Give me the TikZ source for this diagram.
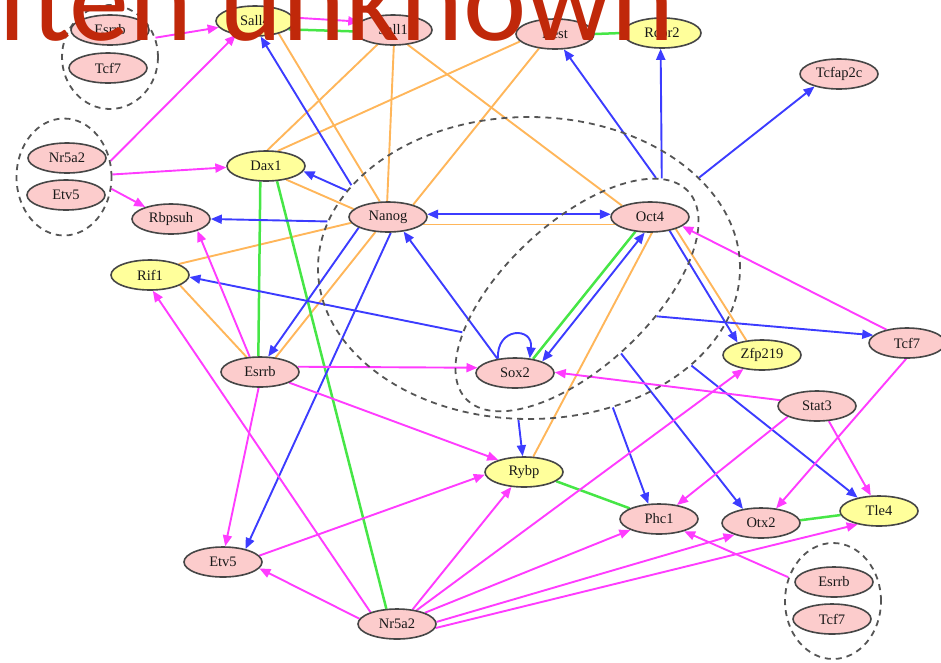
\documentclass[tikz,border=0pt]{standalone}
\usepackage{fontspec}
\setmainfont{Liberation Serif}
\newfontfamily\genefont{Liberation Serif}
\newfontfamily\bannerfont{Carlito}
\usetikzlibrary{arrows.meta,shapes.geometric,backgrounds}

\definecolor{genePink}{RGB}{252,204,204}
\definecolor{geneYellow}{RGB}{255,255,155}
\definecolor{nodeRim}{RGB}{70,70,70}
\definecolor{ringGray}{RGB}{85,85,85}
\definecolor{edgeBlue}{RGB}{60,60,255}
\definecolor{edgeMagenta}{RGB}{255,60,255}
\definecolor{edgeOrange}{RGB}{255,182,90}
\definecolor{edgeGreen}{RGB}{70,230,70}
\definecolor{bannerRed}{RGB}{192,40,10}

\tikzset{
  gene/.style={ellipse, draw=nodeRim, line width=1.6pt, minimum width=78pt,
    minimum height=30pt, inner sep=0pt, text=black!90,
    font=\genefont\fontsize{14.5}{16}\selectfont},
  pinkgene/.style={gene, fill=genePink},
  yellowgene/.style={gene, fill=geneYellow},
  ring/.style={ellipse, draw=ringGray, dash pattern=on 6pt off 5pt,
    line width=1.8pt, inner sep=0pt},
  magArrow/.style={draw=edgeMagenta, line width=1.9pt, -{Triangle[length=11pt,width=9pt]}},
  blueArrow/.style={draw=edgeBlue, line width=1.9pt, -{Triangle[length=11pt,width=9pt]}},
  blueBoth/.style={draw=edgeBlue, line width=1.9pt,
    {Triangle[length=11pt,width=9pt]}-{Triangle[length=11pt,width=9pt]}},
  orangeLink/.style={draw=edgeOrange, line width=1.9pt},
  greenLink/.style={draw=edgeGreen, line width=2.5pt}
}

\begin{document}
\begin{tikzpicture}[x=1pt,y=-1pt]
\useasboundingbox (0,0) rectangle (941,662);
\clip (0,0) rectangle (941,662);

% dashed complexes
\node[ring, minimum width=96pt, minimum height=104pt] (gTL) at (110,57) {};
\node[ring, minimum width=95pt, minimum height=117pt] (gL) at (64,177) {};
\node[ring, minimum width=96pt, minimum height=116pt] (gBR) at (833,601) {};
\node[ring, minimum width=422pt, minimum height=302pt] (gOut) at (529,268) {};
\node[ring, rotate=43, minimum width=304pt, minimum height=144pt] (gIn) at (577,295) {};

% genes
\node[pinkgene] (esrrbA) at (110,30) {Esrrb};
\node[pinkgene] (tcf7A) at (108,68) {Tcf7};
\node[yellowgene] (sall4) at (255,21) {Sall4};
\node[pinkgene] (sall1) at (393,30) {Sall1};
\node[pinkgene] (rest) at (555,34) {Rest};
\node[yellowgene] (rcor2) at (662,33) {Rcor2};
\node[pinkgene] (tcfap2c) at (839,74) {Tcfap2c};
\node[pinkgene] (nr5a2A) at (67,158) {Nr5a2};
\node[pinkgene] (etv5A) at (66,195) {Etv5};
\node[yellowgene] (dax1) at (266,166) {Dax1};
\node[pinkgene] (rbpsuh) at (171,219) {Rbpsuh};
\node[yellowgene] (rif1) at (150,275) {Rif1};
\node[pinkgene] (nanog) at (388,217) {Nanog};
\node[pinkgene] (oct4) at (650,217) {Oct4};
\node[pinkgene] (sox2) at (515,373) {Sox2};
\node[yellowgene] (zfp219) at (762,355) {Zfp219};
\node[pinkgene, minimum width=76pt] (tcf7B) at (907,343) {Tcf7};
\node[pinkgene] (stat3) at (817,406) {Stat3};
\node[pinkgene] (esrrbB) at (260,372) {Esrrb};
\node[yellowgene] (rybp) at (524,472) {Rybp};
\node[pinkgene] (phc1) at (659,519) {Phc1};
\node[pinkgene] (otx2) at (761,523) {Otx2};
\node[yellowgene] (tle4) at (879,511) {Tle4};
\node[pinkgene] (etv5B) at (223,562) {Etv5};
\node[pinkgene] (nr5a2B) at (397,624) {Nr5a2};
\node[pinkgene] (esrrbC) at (834,582) {Esrrb};
\node[pinkgene] (tcf7C) at (832,619) {Tcf7};

\begin{scope}[on background layer]
% orange associations
\draw[orangeLink] (sall4.332) -- (nanog.118);
\draw[orangeLink] (sall1.223) -- (dax1.85);
\draw[orangeLink] (sall1.273) -- (nanog.93);
\draw[orangeLink] (sall1.315) -- (oct4.158);
\draw[orangeLink] (rest.192) -- (dax1.52);
\draw[orangeLink] (rest.222) -- (nanog.26);
\draw[orangeLink] (dax1.326) -- (nanog.167);
\draw[orangeLink] (rif1.21) -- (nanog.189);
\draw[orangeLink] (rif1.341) -- (esrrbB.132);
\draw[orangeLink] (nanog.230) -- (esrrbB.43);
\draw[orangeLink] (nanog.348) -- (oct4.192);
\draw[orangeLink] (oct4.335) -- (zfp219.137);
\draw[orangeLink] (oct4.277) -- (rybp.59);

% green bindings
\draw[greenLink] (sall4.346) -- (sall1.182);
\draw[greenLink] (rest.0) -- (rcor2.180);
\draw[greenLink] (dax1.250) -- (esrrbB.96);
\draw[greenLink] (dax1.306) -- (nr5a2B.125);
\draw[greenLink] (oct4.225) -- (sox2.38);
\draw[greenLink] (rybp.344) -- (phc1.160);
\draw[greenLink] (otx2.4) -- (tle4.186);

% blue regulation
\draw[blueArrow] (gOut.155) -- (sall4.290);
\draw[blueArrow] (gOut.157) -- (dax1.352);
\draw[blueArrow] (gOut.167) -- (rbpsuh.0);
\draw[blueBoth] (nanog.4) -- (oct4.176);
\draw[blueArrow] (nanog.200) -- (esrrbB.62);
\draw[blueArrow] (nanog.280) -- (etv5B.30);
\draw[blueArrow] (sox2.141) -- (nanog.317);
\draw[blueArrow] (sox2.140) .. controls +(-2,-32) and +(4,-32) .. (sox2.45);
\draw[blueArrow] (gIn.155) -- (rif1.357);
\draw[blueBoth] (oct4.251) -- (sox2.23);
\draw[blueArrow] (gIn.13) -- (rest.300);
\draw[blueArrow] (gIn.11) -- (rcor2.265);
\draw[blueArrow] (gOut.28) -- (tcfap2c.207);
\draw[blueArrow] (oct4.325) -- (zfp219.153);
\draw[blueArrow] (gIn.302) -- (tcf7B.167);
\draw[blueArrow] (gIn.264) -- (otx2.142);
\draw[blueArrow] (gOut.329) -- (tle4.148);
\draw[blueArrow] (gOut.301) -- (phc1.125);
\draw[blueArrow] (gOut.266) -- (rybp.95);

% magenta regulation
\draw[magArrow] (gTL.23) -- (sall4.190);
\draw[magArrow] (gL.19) -- (sall4.216);
\draw[magArrow] (gL.3) -- (dax1.182);
\draw[magArrow] (gL.346) -- (rbpsuh.155);
\draw[magArrow] (sall4.5) -- (sall1.166);
\draw[magArrow] (esrrbB.124) -- (rbpsuh.336);
\draw[magArrow] (esrrbB.8) -- (sox2.172);
\draw[magArrow] (esrrbB.340) -- (rybp.155);
\draw[magArrow] (esrrbB.265) -- (etv5B.82);
\draw[magArrow] (nr5a2B.156) -- (rif1.280);
\draw[magArrow] (nr5a2B.172) -- (etv5B.350);
\draw[magArrow] (nr5a2B.43) -- (rybp.230);
\draw[magArrow] (nr5a2B.35) -- (zfp219.217);
\draw[magArrow] (nr5a2B.22) -- (phc1.201);
\draw[magArrow] (nr5a2B.3) -- (otx2.204);
\draw[magArrow] (nr5a2B.354) -- (tle4.212);
\draw[magArrow] (etv5B.10) -- (rybp.184);
\draw[magArrow] (tcf7B.147) -- (oct4.344);
\draw[magArrow] (tcf7B.267) -- (otx2.44);
\draw[magArrow] (stat3.171) -- (sox2.1);
\draw[magArrow] (stat3.200) -- (phc1.38);
\draw[magArrow] (stat3.308) -- (tle4.118);
\draw[magArrow] (gBR.152) -- (phc1.334);
\end{scope}

% banner
\node[anchor=base west, inner sep=0pt, text=bannerRed,
  font=\bannerfont\fontsize{120}{120}\selectfont] (banner) at (-3,40) {ften unknown};
\end{tikzpicture}
\end{document}
